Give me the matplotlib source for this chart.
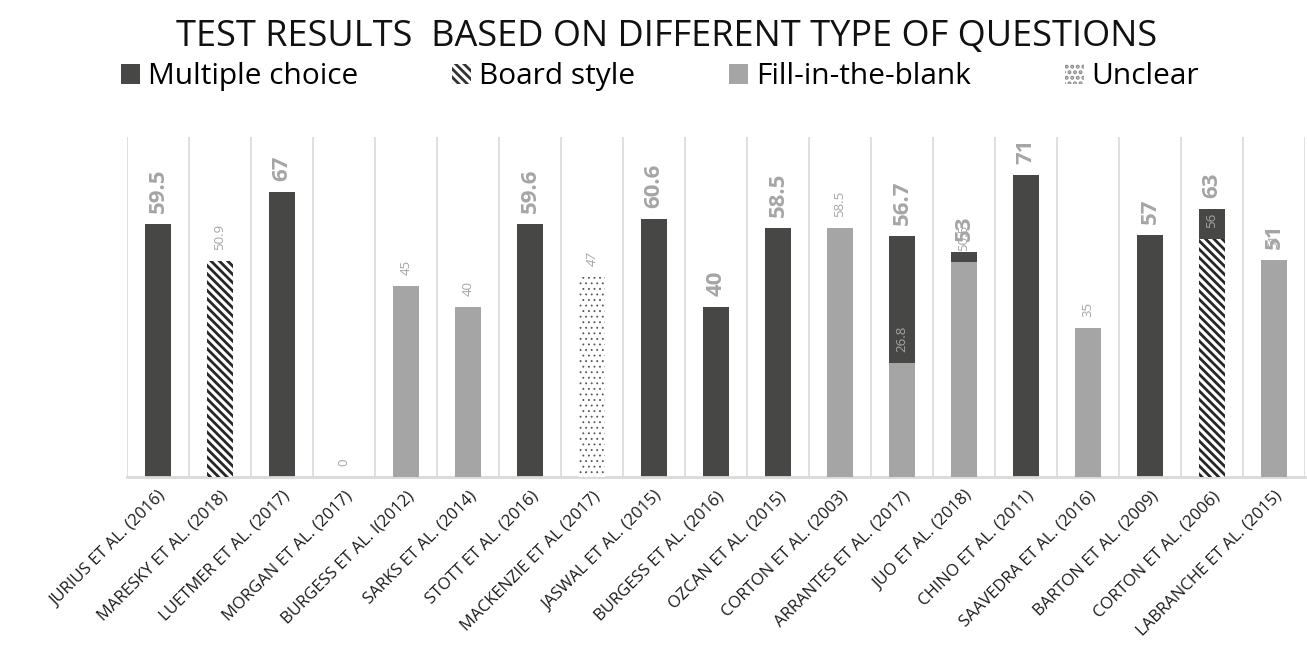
import numpy as np
import matplotlib
matplotlib.use('Agg')
import matplotlib.pyplot as plt
from matplotlib.patches import Patch

plt.rcParams['font.family'] = ['Open Sans', 'DejaVu Sans']
plt.rcParams['hatch.linewidth'] = 2.0

nan = np.nan
studies = ['JURIUS ET AL. (2016)', 'MARESKY ET AL. (2018)', 'LUETMER ET AL. (2017)',
           'MORGAN ET AL. (2017)', 'BURGESS ET AL. I(2012)', 'SARKS ET AL. (2014)',
           'STOTT ET AL. (2016)', 'MACKENZIE ET AL (2017)', 'JASWAL ET AL. (2015)',
           'BURGESS ET AL. (2016)', 'OZCAN ET AL. (2015)', 'CORTON ET AL. (2003)',
           'ARRANTES ET AL. (2017)', 'JUO ET AL. (2018)', 'CHINO ET AL. (2011)',
           'SAAVEDRA ET AL. (2016)', 'BARTON ET AL. (2009)', 'CORTON ET AL. (2006)',
           'LABRANCHE ET AL. (2015)']
multiple_choice = [59.5, nan, 67, nan, nan, nan, 59.6, nan, 60.6, 40, 58.5, nan,
                   56.7, 53, 71, nan, 57, 63, 51]
board_style = [nan, 50.9, nan, nan, nan, nan, nan, nan, nan, nan, nan, nan,
               nan, nan, nan, nan, nan, 56, nan]
fill_blank = [nan, nan, nan, 0, 45, 40, nan, nan, nan, nan, nan, 58.5,
              26.8, 50.5, nan, 35, nan, nan, 51]
unclear = [nan, nan, nan, nan, nan, nan, nan, 47, nan, nan, nan, nan,
           nan, nan, nan, nan, nan, nan, nan]

dark = '#474746'
light = '#A5A5A5'
lbl = '#A5A5A5'

fig = plt.figure(figsize=(13.07, 6.61), dpi=100)
ax = fig.add_axes([0.0972, 0.2784, 0.9013, 0.5143])

x = np.arange(len(studies))
w = 0.43

def labels(vals, big=False, italic=False):
    for xi, v in zip(x, vals):
        if np.isnan(v):
            continue
        txt = f'{v:g}'
        ax.annotate(txt, (xi, v), xytext=(0, 8), textcoords='offset points',
                    rotation=90, ha='center', va='bottom', color=lbl,
                    fontsize=16 if big else 9.5,
                    fontweight='bold' if big else 'normal',
                    fontstyle='italic' if italic else 'normal')

ax.bar(x, multiple_choice, w, color=dark, zorder=2)
ax.bar(x, board_style, w, color='white', edgecolor='#262626', linewidth=0,
       hatch='\\\\\\\\', zorder=3)
ax.bar(x, fill_blank, w, color=light, zorder=4)
with plt.rc_context({'hatch.linewidth': 0.6}):
    ax.bar(x, unclear, w, color='white', edgecolor='#555555', linewidth=0,
           hatch='...', zorder=3)
    dot_patch = Patch(facecolor='white', edgecolor='#888888', hatch='...', lw=0)

labels(multiple_choice, big=True)
labels(board_style)
labels(fill_blank)
labels(unclear, italic=True)

ax.set_xlim(-0.5, len(studies) - 0.5)
ax.set_ylim(0, 80)
for b in np.arange(-0.5, len(studies), 1.0):
    ax.axvline(b, color='#D9D9D9', lw=1.2, zorder=1)
for s in ['top', 'right', 'left']:
    ax.spines[s].set_visible(False)
ax.spines['bottom'].set_color('#D9D9D9')
ax.spines['bottom'].set_linewidth(2)
ax.set_yticks([])
ax.set_xticks(x)
ax.set_xticklabels(studies, rotation=45, ha='right', rotation_mode='anchor',
                   fontsize=12, color='#1a1a1a')
ax.tick_params(axis='x', length=0, pad=8)

fig.suptitle('TEST RESULTS  BASED ON DIFFERENT TYPE OF QUESTIONS', x=0.51, y=0.972,
             fontsize=26, color='#111111')
handles = [Patch(facecolor=dark), Patch(facecolor='white', edgecolor='#333333', hatch='\\\\\\\\', lw=0),
           Patch(facecolor=light), dot_patch]
fig.legend(handles, ['Multiple choice', 'Board style', 'Fill-in-the-blank', 'Unclear'],
           loc='center', bbox_to_anchor=(0.505, 0.884), ncol=4, frameon=False,
           fontsize=21.5, handlelength=0.65, handleheight=0.65, handletextpad=0.25,
           columnspacing=3.15)

fig.savefig('out.png', dpi=100)
